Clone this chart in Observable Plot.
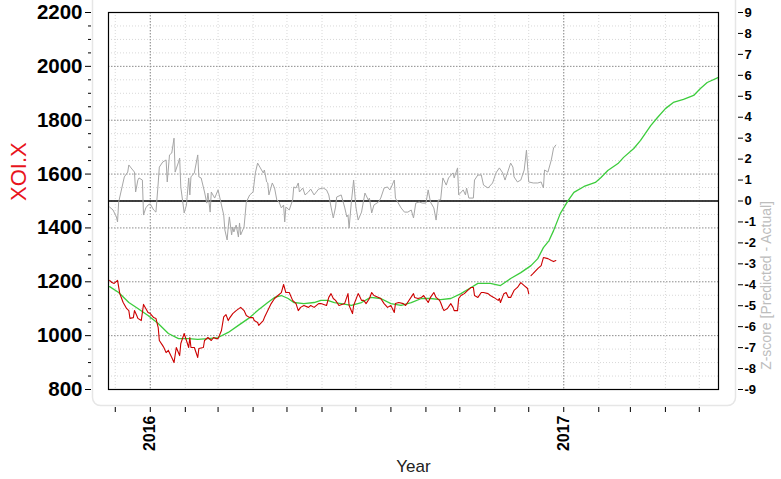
<!DOCTYPE html>
<html>
<head>
<meta charset="utf-8">
<script src="https://cdn.jsdelivr.net/npm/d3@7"></script>
<script src="https://cdn.jsdelivr.net/npm/@observablehq/plot@0.6"></script>
<style>
  html, body { margin: 0; padding: 0; background: #fff; }
  #chart svg { display: block; }
</style>
</head>
<body>
<div id="chart"></div>
<script>
// ---- data (days since 2016-01-01, value) ----
const xDomain = ["2015-11-25", "2017-05-18"];
const yDomain = [800, 2200];
const zDomain = [-9, 9];
const zCenter = 1500;           // price level where z = 0 on the shared axis
const yMajorTicks = [800, 1000, 1200, 1400, 1600, 1800, 2000, 2200];
const zTickLabels = [-9, -8, -7, -6, -5, -4, -3, -2, -1, 0, 1, 2, 3, 4, 5, 6, 7, 8, 9];

const actualSeries = [[-36,1205],[-34,1197],[-32,1194],[-29,1205],[-27,1156],[-24,1123],[-21,1101],[-19,1093],[-18,1064],[-15,1067],[-14,1093],[-12,1075],[-11,1064],[-8,1056],[-6,1116],[-4,1101],[-2,1086],[0,1082],[3,1067],[5,1064],[7,1030],[8,982],[11,963],[12,956],[14,937],[16,945],[19,919],[21,900],[23,956],[26,926],[27,971],[30,1008],[32,982],[34,956],[35,993],[36,956],[39,956],[42,919],[43,952],[47,956],[48,982],[51,993],[54,982],[56,993],[58,989],[60,989],[63,1019],[65,1070],[67,1078],[69,1056],[70,1064],[73,1082],[76,1093],[80,1105],[83,1093],[85,1075],[88,1067],[91,1067],[92,1056],[95,1049],[96,1038],[100,1056],[101,1067],[104,1093],[107,1119],[110,1138],[113,1149],[116,1160],[118,1190],[120,1160],[123,1160],[126,1131],[129,1119],[131,1093],[133,1105],[136,1112],[140,1105],[142,1112],[145,1105],[149,1119],[151,1119],[156,1112],[158,1142],[160,1156],[162,1138],[164,1131],[167,1112],[172,1119],[175,1156],[176,1112],[179,1082],[180,1112],[184,1156],[185,1149],[187,1131],[189,1131],[191,1119],[194,1138],[196,1160],[198,1149],[202,1142],[204,1138],[207,1119],[210,1105],[213,1112],[216,1086],[217,1119],[220,1123],[224,1119],[226,1112],[233,1156],[234,1142],[237,1138],[240,1142],[242,1149],[246,1123],[248,1142],[251,1160],[253,1142],[256,1131],[257,1123],[259,1101],[260,1093],[263,1101],[266,1119],[268,1105],[269,1093],[272,1093],[273,1138],[275,1149],[278,1156],[281,1168],[284,1179],[286,1179],[287,1149],[290,1142],[293,1160],[295,1160],[299,1156],[301,1149],[304,1142],[308,1131],[309,1138],[310,1123],[313,1156],[315,1160],[317,1142],[319,1142],[322,1168],[325,1179],[328,1197],[331,1186],[334,1175],[335,1156],[336,null],[337,1223],[339,1231],[343,1249],[346,1260],[348,1290],[352,1286],[355,1279],[357,1275],[359,1279]];

const predictedSeries = [[-36,1182],[-28,1160],[-19,1123],[-11,1101],[-2,1075],[7,1045],[16,1008],[25,989],[34,989],[42,986],[51,989],[60,993],[69,1012],[78,1038],[87,1064],[95,1093],[104,1123],[110,1142],[116,1149],[122,1138],[127,1123],[136,1119],[145,1123],[151,1131],[157,1131],[163,1123],[169,1119],[178,1112],[187,1123],[195,1142],[204,1138],[213,1119],[222,1112],[231,1123],[240,1138],[248,1138],[257,1134],[266,1138],[275,1156],[284,1179],[290,1194],[301,1194],[310,1186],[319,1212],[328,1234],[337,1260],[343,1286],[348,1327],[353,1353],[357,1390],[363,1454],[370,1502],[375,1532],[384,1554],[394,1569],[399,1587],[405,1613],[414,1639],[419,1662],[428,1695],[434,1725],[443,1780],[449,1810],[456,1843],[463,1866],[472,1877],[481,1892],[487,1918],[493,1940],[503,1959]];

const zscoreSeries = [[-36,-0.29],[-33,-0.43],[-30,-0.76],[-29,-1.0],[-28,-0.05],[-26,0.43],[-23,1.15],[-20,1.38],[-19,1.72],[-17,1.58],[-14,1.38],[-13,0.43],[-11,1.0],[-10,1.1],[-7,1.0],[-6,-0.67],[-4,-0.33],[-2,-0.19],[0,-0.14],[3,-0.43],[5,-0.53],[7,0.86],[8,1.62],[11,1.86],[14,1.96],[15,0.91],[17,2.2],[19,2.29],[21,3.0],[22,1.38],[25,1.86],[26,2.05],[27,0.67],[30,-0.57],[32,-0.19],[34,1.1],[35,0.29],[36,1.15],[39,1.34],[42,2.2],[43,1.15],[45,1.1],[48,0.43],[50,-0.1],[51,0.38],[53,-0.53],[54,0.43],[57,0.14],[60,0.53],[62,0.05],[65,-0.67],[66,-1.38],[68,-1.86],[69,-1.24],[70,-0.76],[72,-1.62],[73,-1.24],[74,-1.48],[76,-1.15],[78,-1.72],[79,-1.05],[80,-1.62],[83,-1.24],[85,-0.05],[88,0.29],[91,0.43],[93,1.34],[95,1.81],[97,1.62],[100,1.34],[101,1.48],[103,0.91],[104,0.86],[105,0.29],[108,0.86],[110,0.62],[112,0.05],[114,-0.05],[116,-0.33],[118,-0.19],[119,-1.0],[120,-0.29],[123,-0.43],[126,0.05],[127,0.67],[129,0.62],[131,0.86],[132,0.43],[135,0.62],[137,0.29],[140,0.43],[142,0.57],[145,0.29],[147,0.43],[149,0.57],[153,0.62],[156,0.53],[158,0.29],[160,-0.29],[162,-0.81],[164,-0.29],[165,0.19],[169,0.29],[172,-0.29],[174,-0.76],[175,-0.67],[176,-1.29],[178,-0.05],[180,1.0],[182,-0.29],[184,-0.91],[187,-0.53],[190,0.38],[193,0.05],[194,0.14],[196,-0.57],[198,-0.19],[202,-0.05],[204,0.14],[207,0.62],[210,0.67],[212,0.53],[213,0.62],[216,1.0],[217,0.14],[219,-0.05],[222,-0.33],[225,-0.53],[228,-0.53],[231,-0.43],[233,-0.81],[235,-0.1],[238,-0.05],[241,-0.1],[244,-0.1],[246,0.53],[248,-0.05],[251,-0.33],[253,-0.91],[255,0.05],[257,0.05],[259,1.1],[262,0.76],[264,1.1],[268,1.34],[269,1.1],[272,1.58],[273,0.29],[277,0.53],[279,0.29],[280,0.62],[282,0.14],[286,0.14],[287,1.0],[290,1.24],[293,1.24],[295,0.76],[299,0.62],[303,0.86],[306,1.34],[309,1.58],[312,1.34],[314,1.0],[317,1.48],[319,1.81],[321,1.62],[322,1.15],[325,0.91],[328,1.0],[331,1.48],[333,2.43],[335,0.91],[339,0.86],[343,0.86],[346,0.91],[347,0.76],[348,0.62],[349,1.48],[352,1.38],[355,1.96],[357,2.53],[359,2.67]];

// ---- build ----
const origin = new Date(Date.UTC(2016, 0, 1));
const toDate = d => d3.utcDay.offset(origin, d);
const xd = xDomain.map(s => new Date(s + "T00:00:00Z"));
const zPerUnit = (yDomain[1] - yDomain[0]) / (zDomain[1] - zDomain[0]);
const zToY = z => zCenter + z * zPerUnit;

const actual = actualSeries.map(([d, v]) => ({date: toDate(d), value: v}));
const predicted = predictedSeries.map(([d, v]) => ({date: toDate(d), value: v}));
const zscore = zscoreSeries.map(([d, z]) => ({date: toDate(d), value: zToY(z)}));

const monthTicks = d3.utcMonth.range(d3.utcMonth.ceil(xd[0]), xd[1]);
const yearTicks = monthTicks.filter(d => d.getUTCMonth() === 0);
const yMinor = d3.range(yDomain[0], yDomain[1] + 1, 50);
const yMinorOnly = yMinor.filter(v => v % 200 !== 0);

const chart = Plot.plot({
  width: 781,
  height: 479,
  marginTop: 12,
  marginBottom: 90,
  marginLeft: 108,
  marginRight: 63,
  style: {fontFamily: "'Liberation Sans', Arial, sans-serif", background: "#fff", color: "#000", overflow: "visible"},
  x: {type: "utc", domain: xd},
  y: {domain: yDomain},
  marks: [
    Plot.frame({stroke: "#e6e6e6", strokeWidth: 1.5, rx: 8, insetLeft: -16, insetRight: -17, insetBottom: -16, insetTop: -30}),
    Plot.gridX(monthTicks, {stroke: "#d8d8d8", strokeOpacity: 1, strokeDasharray: "1,2"}),
    Plot.gridY(yMinorOnly, {stroke: "#d8d8d8", strokeOpacity: 1, strokeDasharray: "1,2"}),
    Plot.gridX(yearTicks, {stroke: "#8c8c8c", strokeOpacity: 1, strokeDasharray: "1.5,1.5"}),
    Plot.gridY(yMajorTicks, {stroke: "#8c8c8c", strokeOpacity: 1, strokeDasharray: "1.5,1.5"}),
    Plot.ruleY([zCenter], {stroke: "#000", strokeWidth: 1.5}),
    Plot.line(zscore, {x: "date", y: "value", stroke: "#a6a6a6", strokeWidth: 1}),
    Plot.line(predicted, {x: "date", y: "value", stroke: "#3ccc3c", strokeWidth: 1.3}),
    Plot.line(actual, {x: "date", y: "value", stroke: "#cc0000", strokeWidth: 1.1}),
    Plot.frame({stroke: "#000", strokeWidth: 1.2}),
    // left axis
    Plot.axisY(yMajorTicks, {anchor: "left", tickSize: 6, dx: -17, tickPadding: 3, fontSize: 20.5, fontWeight: "bold", label: null, tickFormat: d => String(d)}),
    Plot.axisY(yMinorOnly, {anchor: "left", tickSize: 3, dx: -17, label: null, tickFormat: () => ""}),
    // right axis (z-score)
    Plot.axisY(zTickLabels.map(zToY), {anchor: "right", tickSize: 5, dx: 19, tickPadding: 2, fontSize: 13, fontWeight: "bold", label: null,
      tickFormat: v => String(Math.round((v - zCenter) / zPerUnit))}),
    // bottom axis
    Plot.axisX(monthTicks, {anchor: "bottom", tickSize: 5, dy: 18, tickPadding: 3, tickRotate: -90, textAnchor: "end", lineAnchor: "middle",
      fontSize: 16, fontWeight: "bold", label: null,
      tickFormat: d => d.getUTCMonth() === 0 ? String(d.getUTCFullYear()) : ""}),
    // titles
    Plot.text(["Year"], {text: d => d, frameAnchor: "bottom", dy: 82, fontSize: 17, fill: "#222"}),
    Plot.text(["XOI.X"], {text: d => d, frameAnchor: "left", dx: -90, rotate: -90, fontSize: 22, fill: "#e8141c"}),
    Plot.text(["Z-score [Predicted - Actual]"], {text: d => d, frameAnchor: "right", dx: 48, rotate: -90, fontSize: 14, fill: "#bdbdbd"})
  ]
});
document.getElementById("chart").appendChild(chart);
</script>
</body>
</html>
